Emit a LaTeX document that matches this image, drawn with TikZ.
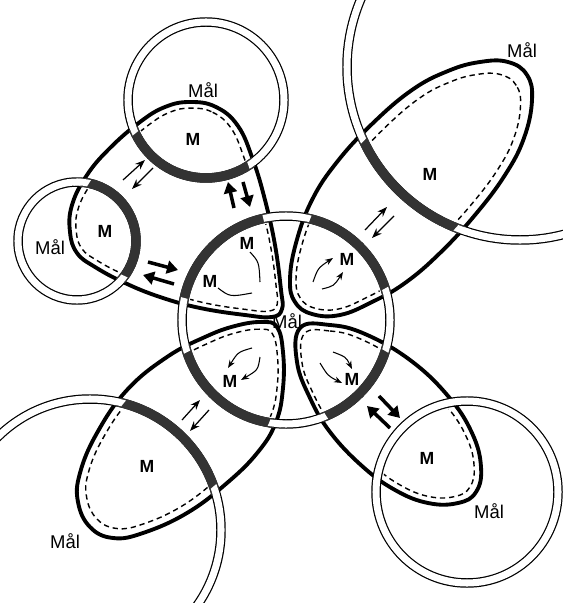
\documentclass[tikz,border=0pt]{standalone}
\usepackage{fontspec}
\setsansfont{Liberation Sans}
\usetikzlibrary{arrows.meta}
% cell outlines (units: 0.2mm, y downwards)
\newcommand{\cellTL}{plot[smooth cycle, tension=0.7] coordinates {(190,102) (216,107) (238,126) (253,160) (265,200) (275,245) (281,290) (282,309) (272,317) (245,315) (200,308) (160,297) (125,283) (95,267) (77,253) (70,232) (72,205) (87,175) (110,148) (140,122) (165,107)}}
\newcommand{\cellUR}{plot[smooth cycle, tension=0.7] coordinates {(532,100) (527,75) (508,62) (480,62) (448,71) (412,90) (372,124) (337,162) (312,200) (296,243) (290,280) (295,302) (312,314) (340,315) (372,302) (405,283) (440,253) (475,215) (505,175) (524,138)}}
\newcommand{\cellLL}{plot[smooth cycle, tension=0.7] coordinates {(277,327) (262,322) (235,326) (205,337) (167,357) (127,390) (97,433) (80,473) (78,502) (90,527) (113,538) (143,533) (187,513) (227,483) (258,452) (276,422) (283,388) (283,352)}}
\newcommand{\cellLR}{plot[smooth cycle, tension=0.7] coordinates {(300,328) (330,325) (365,334) (410,360) (448,396) (472,433) (481,467) (476,492) (458,503) (428,503) (395,490) (362,466) (330,432) (310,398) (297,362)}}
\newcommand{\ringat}[2]{\draw[ringblk] (#1) circle (#2); \draw[ringwht] (#1) circle (#2);}
\newcommand{\membr}[3]{%
  \begin{scope} \clip #1; \draw[memb] (#2) circle (#3); \end{scope}
  \begin{scope}
    \clip (#2) ++({#3+3.4},0) arc[start angle=0, end angle=360, radius={#3+3.4}]
      -- ++(-6.8,0) arc[start angle=360, end angle=0, radius={#3-3.4}] -- cycle;
    \draw[notch] #1;
  \end{scope}}
\newcommand{\inset}[4]{%
  \begin{scope} \clip (#2) circle ({#3-6}); \draw[dsh, scale around={#4}] #1; \end{scope}}
\tikzset{
  cellline/.style={line width=2.2pt, line join=round},
  dsh/.style     ={line width=0.8pt, dash pattern=on 3pt off 2.2pt},
  ringblk/.style ={line width=5.4pt},
  ringwht/.style ={white, line width=4pt},
  memb/.style    ={black!80, line width=5.4pt},
  notch/.style   ={white, line width=7pt},
  thinarr/.style ={-{Stealth[length=2mm, width=1.5mm]}, line width=0.7pt},
  fatarr/.style  ={-{Triangle[length=2.2mm, width=2.6mm]}, line width=2pt},
  flow/.style    ={-{Stealth[length=1.6mm, width=1.2mm]}, line width=0.6pt},
  mlbl/.style    ={font=\sffamily\bfseries\fontsize{10}{12}\selectfont, inner sep=1pt},
  goal/.style    ={font=\sffamily\fontsize{10.5}{12}\selectfont, inner sep=1pt},
}
\begin{document}
\begin{tikzpicture}[x=0.2mm, y=-0.2mm]
  \useasboundingbox (0,0) rectangle (562,603);
  \coordinate (cC)  at (286,320);
  \coordinate (cT)  at (206,100);
  \coordinate (cL)  at (77,241);
  \coordinate (cUR) at (520,67);
  \coordinate (cLL) at (90,530);
  \coordinate (cLR) at (467,492);
  % ---- the central label sits under the lobes
  \node[goal] (malC) at (287,321) {Mål};
  % ---- inner compartments (dashed)
  \inset{\cellTL}{cT}{78}{0.84:(195,140)}
  \inset{\cellTL}{cL}{59}{0.82:(105,230)}
  \inset{\cellTL}{cC}{104}{0.85:(250,278)}
  \inset{\cellUR}{cC}{104}{0.85:(330,275)}
  \inset{\cellUR}{cUR}{173}{0.84:(460,140)}
  \inset{\cellLL}{cC}{104}{0.85:(245,370)}
  \inset{\cellLL}{cLL}{131}{0.86:(140,470)}
  \inset{\cellLR}{cC}{104}{0.85:(330,365)}
  \inset{\cellLR}{cLR}{91}{0.85:(435,460)}
  % ---- cells
  \draw[cellline] \cellTL;
  \draw[cellline] \cellUR;
  \draw[cellline] \cellLL;
  \draw[cellline] \cellLR;
  % ---- double rings
  \ringat{cC}{104}
  \ringat{cT}{78}
  \ringat{cL}{59}
  \ringat{cUR}{173}
  \ringat{cLL}{131}
  \ringat{cLR}{91}
  % ---- membrane bands
  \membr{\cellTL}{cC}{104}
  \membr{\cellTL}{cT}{78}
  \membr{\cellTL}{cL}{59}
  \membr{\cellUR}{cC}{104}
  \membr{\cellUR}{cUR}{173}
  \membr{\cellLL}{cC}{104}
  \membr{\cellLL}{cLL}{131}
  \membr{\cellLR}{cC}{104}
  % ---- exchange arrows
  \draw[thinarr] (123,180) -- (145,160);
  \draw[thinarr] (153,168) -- (132,189);
  \draw[fatarr] (234,208) -- (228,182);
  \draw[fatarr] (243,182) -- (250,207);
  \draw[fatarr] (148,262) -- (178,270);
  \draw[fatarr] (174,284) -- (143,275);
  \draw[thinarr] (365,230) -- (387,207);
  \draw[thinarr] (394,216) -- (372,238);
  \draw[thinarr] (182,420) -- (200,400);
  \draw[thinarr] (209,410) -- (190,431);
  \draw[fatarr] (390,428) -- (367,406);
  \draw[fatarr] (379,396) -- (400,418);
  % ---- flows inside the central lobes
  \draw[line width=0.6pt] (250,252) .. controls (259,262) .. (260,282);
  \draw[line width=0.6pt] (218,288) .. controls (230,297) .. (252,293);
  \draw[flow] (313,282) .. controls (318,268) .. (333,258);
  \draw[flow] (322,289) .. controls (334,286) .. (343,272);
  \draw[flow] (252,348) .. controls (238,352) .. (228,368);
  \draw[flow] (260,357) .. controls (258,370) .. (241,380);
  \draw[flow] (333,352) .. controls (346,357) .. (352,369);
  \draw[flow] (320,363) .. controls (328,376) .. (342,383);
  % ---- labels
  \node[goal] (malT)  at (203,90)  {Mål};
  \node[goal] (malL)  at (50,247)  {Mål};
  \node[goal] (malUR) at (522,50)  {Mål};
  \node[goal] (malLL) at (65,541)  {Mål};
  \node[goal] (malLR) at (489,511) {Mål};
  \node[mlbl] (mT)   at (193,139) {M};
  \node[mlbl] (mL)   at (105,231) {M};
  \node[mlbl] (mUL1) at (247,243) {M};
  \node[mlbl] (mUL2) at (210,281) {M};
  \node[mlbl] (mUR1) at (347,259) {M};
  \node[mlbl] (mUR2) at (430,174) {M};
  \node[mlbl] (mLL1) at (230,381) {M};
  \node[mlbl] (mLL2) at (147,466) {M};
  \node[mlbl] (mLR1) at (352,379) {M};
  \node[mlbl] (mLR2) at (427,458) {M};
\end{tikzpicture}
\end{document}
